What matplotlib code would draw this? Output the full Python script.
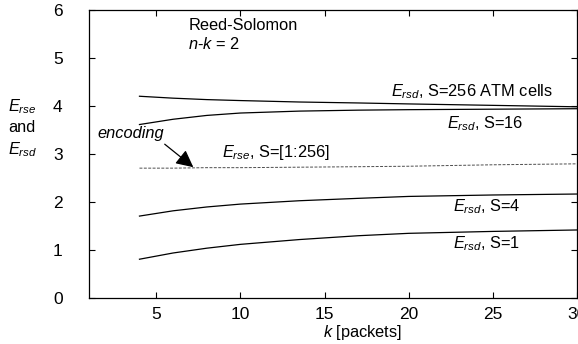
import numpy as np
import matplotlib
matplotlib.use('Agg')
import matplotlib.pyplot as plt

plt.rcParams['font.family'] = 'Liberation Sans'
plt.rcParams['mathtext.fontset'] = 'custom'
plt.rcParams['mathtext.rm'] = 'Liberation Sans'
plt.rcParams['mathtext.it'] = 'Liberation Sans:italic'

k = [4, 6, 8, 10, 13.5, 17, 20, 25, 30]

rsd_s256 = [4.20, 4.16, 4.13, 4.11, 4.08, 4.06, 4.04, 4.01, 3.98]
rsd_s16 = [3.61, 3.72, 3.80, 3.85, 3.89, 3.91, 3.92, 3.93, 3.94]
rse_all = [2.70, 2.70, 2.71, 2.71, 2.72, 2.73, 2.74, 2.77, 2.79]
rsd_s4 = [1.70, 1.81, 1.89, 1.95, 2.02, 2.07, 2.11, 2.14, 2.16]
rsd_s1 = [0.80, 0.93, 1.03, 1.11, 1.21, 1.29, 1.34, 1.38, 1.41]

xticks = [5, 10, 15, 20, 25, 30]
yticks = [0, 1, 2, 3, 4, 5, 6]

fig = plt.figure(figsize=(5.78, 3.44), dpi=100)
ax = fig.add_axes([0.154, 0.135, 0.844, 0.836])

ax.plot(k, rsd_s256, color='black', lw=0.9)
ax.plot(k, rsd_s16, color='black', lw=0.9)
ax.plot(k, rse_all, color='0.3', lw=0.7, linestyle=(0, (3, 1.5)))
ax.plot(k, rsd_s4, color='black', lw=0.9)
ax.plot(k, rsd_s1, color='black', lw=0.9)

fs = 11.8
ax.text(6.9, 5.68, 'Reed-Solomon', fontsize=fs, va='center')
ax.text(6.9, 5.28, '$n$-$k$ = 2', fontsize=fs, va='center')
ax.text(18.95, 4.30, '$E_{rsd}$, S=256 ATM cells', fontsize=fs, va='center')
ax.text(22.3, 3.63, '$E_{rsd}$, S=16', fontsize=fs, va='center')
ax.text(8.93, 3.02, '$E_{rse}$, S=[1:256]', fontsize=fs, va='center')
ax.text(22.65, 1.89, '$E_{rsd}$, S=4', fontsize=fs, va='center')
ax.text(22.65, 1.12, '$E_{rsd}$, S=1', fontsize=fs, va='center')
ax.text(1.48, 3.42, 'encoding', fontsize=fs, va='center', style='italic')
ax.annotate('', xy=(7.2, 2.72), xytext=(5.5, 3.2),
            arrowprops=dict(arrowstyle='-|>', color='black', lw=0.9,
                            mutation_scale=26, shrinkA=0, shrinkB=0))

ax.set_xlim(1, 30)
ax.set_ylim(0, 6)
ax.set_xticks(xticks)
ax.set_yticks(yticks)
ax.tick_params(direction='in', top=True, right=True, length=4, labelsize=12.5)
ax.tick_params(axis='x', pad=7)
ax.tick_params(axis='y', pad=19)
for sp in ax.spines.values():
    sp.set_linewidth(0.9)

ax.set_xlabel('$k$ [packets]', fontsize=fs)
ax.xaxis.set_label_coords(0.56, -0.09)
ax.text(-0.137, 0.665, '$E_{rse}$', transform=ax.transAxes, fontsize=fs, ha='center', va='center')
ax.text(-0.137, 0.593, 'and', transform=ax.transAxes, fontsize=fs, ha='center', va='center')
ax.text(-0.137, 0.515, '$E_{rsd}$', transform=ax.transAxes, fontsize=fs, ha='center', va='center')

plt.savefig('out.png', dpi=100)
